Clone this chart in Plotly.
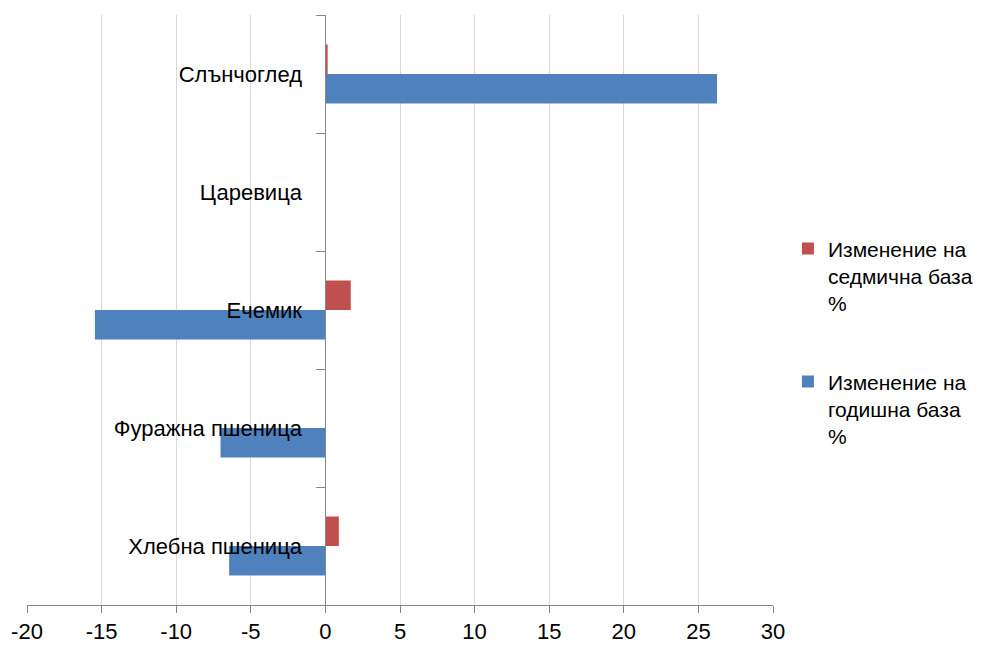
import plotly.graph_objects as go

categories = ["Хлебна пшеница", "Фуражна пшеница", "Ечемик", "Царевица", "Слънчоглед"]
annual_change = [-6.45, -7.03, -15.45, 0.0, 26.25]
weekly_change = [0.9, 0.0, 1.7, 0.0, 0.15]
series_names = ["Изменение на<br>годишна база<br>%", "Изменение на<br>седмична база<br>%"]
x_ticks = [-20, -15, -10, -5, 0, 5, 10, 15, 20, 25, 30]

FONT = "Liberation Sans, Arial, sans-serif"

fig = go.Figure()
fig.add_trace(go.Bar(
    y=categories, x=annual_change, orientation="h", name=series_names[0],
    marker=dict(color="#4F81BD", line=dict(width=0)), legendgroup="a", legendrank=2,
))
fig.add_trace(go.Bar(
    y=categories, x=weekly_change, orientation="h", name=series_names[1],
    marker=dict(color="#C0504D", line=dict(width=0)), legendgroup="b", legendrank=1,
))

fig.update_layout(
    width=981, height=650,
    margin=dict(l=27, r=208, t=15, b=45, autoexpand=False),
    plot_bgcolor="white", paper_bgcolor="white",
    barmode="group", bargap=0.5, bargroupgap=0,
    font=dict(family=FONT, size=22, color="black"),
    showlegend=True,
    legend=dict(
        x=1.02, y=0.445, xanchor="left", yanchor="middle",
        traceorder="grouped", tracegroupgap=48, valign="top",
        font=dict(family=FONT, size=21, color="black"),
        itemwidth=30,
    ),
    xaxis=dict(
        range=[-20, 30], tickvals=x_ticks, ticktext=[str(v) for v in x_ticks],
        showgrid=True, gridcolor="#D9D9D9", gridwidth=1,
        zeroline=False, showline=True, linecolor="#868686", linewidth=1,
        ticks="outside", ticklen=7, tickcolor="#868686",
        tickfont=dict(size=22, family=FONT, color="black"),
        automargin=False, fixedrange=True,
    ),
    yaxis=dict(
        type="category", categoryorder="array", categoryarray=categories,
        anchor="free", position=0.4,
        showgrid=False, zeroline=False,
        showline=True, linecolor="#868686", linewidth=1,
        ticks="outside", ticklen=9, tickcolor="#868686", tickson="boundaries",
        ticklabelstandoff=19,
        tickfont=dict(size=22, family=FONT, color="black"),
        range=[-0.5, 4.5], automargin=False, fixedrange=True,
    ),
)

fig.write_html(
    "out.html",
    config={"displayModeBar": False},
    post_script="document.body.style.margin='0';document.body.style.overflow='hidden';",
)
